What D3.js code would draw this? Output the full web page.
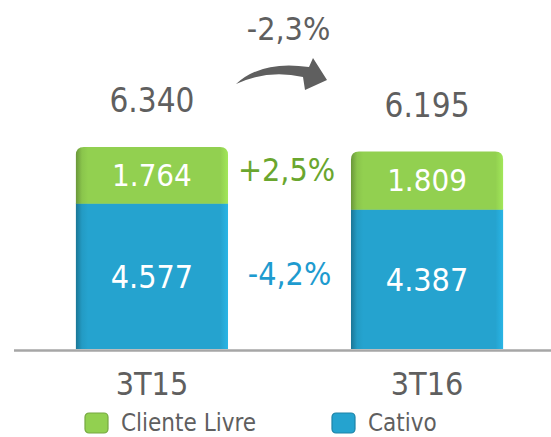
<!DOCTYPE html>
<html>
<head>
<meta charset="utf-8">
<script src="https://cdn.jsdelivr.net/npm/d3@7"></script>
<style>
  body { margin: 0; background: #fff; }
  svg text { font-family: "DejaVu Sans Condensed", "DejaVu Sans", sans-serif; }
</style>
</head>
<body>
<div id="vis"></div>
<script>
const width = 551;
const height = 437;

// Data
const periods = ["3T15", "3T16"];
const clienteLivre = [1764, 1809];
const cativo = [4577, 4387];
const totals = [6340, 6195];
const changeTotal = "-2,3%";
const changeLivre = "+2,5%";
const changeCativo = "-4,2%";
const seriesNames = ["Cliente Livre", "Cativo"];

const green = "#92d050";
const blue = "#25a3cf";
const grey = "#5f5f5f";

const ptBR = d3.formatLocale({ decimal: ",", thousands: ".", grouping: [3], currency: ["R$", ""] });
const fmt = ptBR.format(",d");

const svg = d3.select("#vis").append("svg")
  .attr("width", width)
  .attr("height", height);

const defs = svg.append("defs");

// side shading for the 3D-ish bars
function barGradient(id, base) {
  const c = d3.color(base);
  const g = defs.append("linearGradient").attr("id", id)
    .attr("x1", "0%").attr("x2", "100%").attr("y1", "0%").attr("y2", "0%");
  g.append("stop").attr("offset", "0%").attr("stop-color", c.darker(0.9));
  g.append("stop").attr("offset", "4%").attr("stop-color", c.darker(0.15));
  g.append("stop").attr("offset", "8%").attr("stop-color", base);
  g.append("stop").attr("offset", "95%").attr("stop-color", base);
  g.append("stop").attr("offset", "100%").attr("stop-color", c.brighter(0.3));
}
barGradient("grad-green", green);
barGradient("grad-blue", blue);

const x = d3.scaleBand()
  .domain(periods)
  .range([14, 565])
  .paddingInner(0.447)
  .paddingOuter(0.225);

const y = d3.scaleLinear()
  .domain([0, 6340])
  .range([349, 147]);

const bw = x.bandwidth();
const r = 8;

// Cativo (bottom)
svg.selectAll(".cativo")
  .data(periods)
  .enter().append("rect")
  .attr("class", "cativo")
  .attr("x", d => x(d))
  .attr("y", (d, i) => y(cativo[i]))
  .attr("width", bw)
  .attr("height", (d, i) => y(0) - y(cativo[i]))
  .attr("fill", "url(#grad-blue)");

// Cliente Livre (top, rounded top corners)
svg.selectAll(".livre")
  .data(periods)
  .enter().append("path")
  .attr("class", "livre")
  .attr("d", (d, i) => {
    const x0 = x(d), x1 = x(d) + bw;
    const yb = y(cativo[i]) + 0.5, yt = y(totals[i]);
    return `M${x0},${yb} L${x0},${yt + r} Q${x0},${yt} ${x0 + r},${yt}` +
      ` L${x1 - r},${yt} Q${x1},${yt} ${x1},${yt + r} L${x1},${yb} Z`;
  })
  .attr("fill", "url(#grad-green)");

// baseline
svg.append("line")
  .attr("x1", 14).attr("x2", width)
  .attr("y1", 350.5).attr("y2", 350.5)
  .attr("stroke", "#a6a6a6")
  .attr("stroke-width", 2.5);

// segment labels
svg.selectAll(".lbl-livre")
  .data(periods)
  .enter().append("text")
  .attr("x", d => x(d) + bw / 2)
  .attr("y", (d, i) => (y(cativo[i]) + y(totals[i])) / 2 + 11)
  .attr("text-anchor", "middle")
  .attr("fill", "#fff")
  .style("font-size", "31px")
  .text((d, i) => fmt(clienteLivre[i]));

svg.selectAll(".lbl-cativo")
  .data(periods)
  .enter().append("text")
  .attr("x", d => x(d) + bw / 2)
  .attr("y", (d, i) => (y(0) + y(cativo[i])) / 2 + 12)
  .attr("text-anchor", "middle")
  .attr("fill", "#fff")
  .style("font-size", "32px")
  .text((d, i) => fmt(cativo[i]));

// totals
svg.selectAll(".lbl-total")
  .data(periods)
  .enter().append("text")
  .attr("x", d => x(d) + bw / 2)
  .attr("y", (d, i) => y(totals[i]) - 35)
  .attr("text-anchor", "middle")
  .attr("fill", grey)
  .style("font-size", "33px")
  .text((d, i) => fmt(totals[i]));

// category axis labels
svg.selectAll(".lbl-cat")
  .data(periods)
  .enter().append("text")
  .attr("x", d => x(d) + bw / 2)
  .attr("y", 395)
  .attr("text-anchor", "middle")
  .attr("fill", grey)
  .style("font-size", "32px")
  .text(d => d);

// variation labels between bars
const midX = (x(periods[0]) + bw + x(periods[1])) / 2;
svg.append("text")
  .attr("x", midX - 3)
  .attr("y", 181)
  .attr("text-anchor", "middle")
  .attr("fill", "#6aa62e")
  .style("font-size", "32px")
  .text(changeLivre);

svg.append("text")
  .attr("x", midX)
  .attr("y", 285)
  .attr("text-anchor", "middle")
  .attr("fill", "#1e9bcf")
  .style("font-size", "32px")
  .text(changeCativo);

svg.append("text")
  .attr("x", midX - 1)
  .attr("y", 40)
  .attr("text-anchor", "middle")
  .attr("fill", grey)
  .style("font-size", "32px")
  .text(changeTotal);

// curved arrow
svg.append("path")
  .attr("d", "M236,84 Q262,60 309,67 L313,58 L327,80 L305,90 L303,77 Q268,69 236,84 Z")
  .attr("fill", grey);

// legend
const legendColors = [green, blue];
const legendX = [85, 332];
const lg = svg.selectAll(".legend")
  .data(seriesNames)
  .enter().append("g")
  .attr("transform", (d, i) => `translate(${legendX[i]}, 413)`);

lg.append("rect")
  .attr("width", 23).attr("height", 20)
  .attr("rx", 4)
  .attr("fill", (d, i) => legendColors[i])
  .attr("stroke", (d, i) => d3.color(legendColors[i]).darker(0.6))
  .attr("stroke-width", 1.2);

lg.append("text")
  .attr("x", 36)
  .attr("y", 18)
  .attr("fill", grey)
  .style("font-size", "24px")
  .text(d => d);
</script>
</body>
</html>
